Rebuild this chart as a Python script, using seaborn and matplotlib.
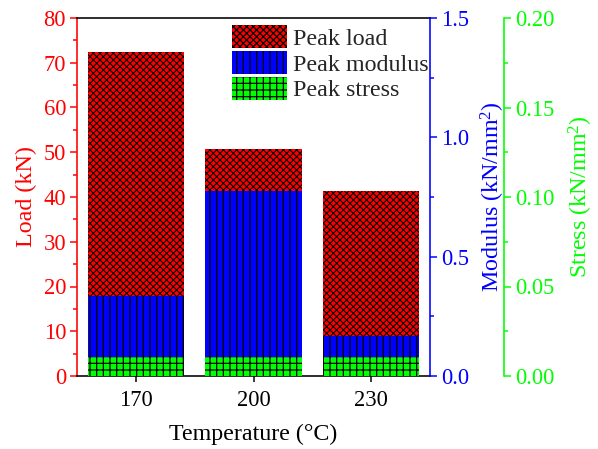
import matplotlib
matplotlib.use("Agg")
import matplotlib.pyplot as plt
import seaborn as sns
import pandas as pd
from matplotlib.ticker import MultipleLocator

temperatures = ["170", "200", "230"]
peak_load = [72.3, 50.7, 41.3]          # kN
peak_modulus = [0.335, 0.775, 0.168]    # kN/mm^2
peak_stress = [0.0106, 0.0106, 0.0106]  # kN/mm^2
legend_labels = ["Peak load", "Peak modulus", "Peak stress"]

RED, BLUE, GREEN = "#FF0000", "#0000FF", "#00FF00"

sns.set_style("ticks")
DPI = 80
px = 72 / DPI
plt.rcParams["font.family"] = ["Liberation Serif", "DejaVu Serif"]
plt.rcParams["mathtext.fontset"] = "custom"
plt.rcParams["mathtext.rm"] = "Liberation Serif"
plt.rcParams["mathtext.it"] = "Liberation Serif:italic"
plt.rcParams["axes.linewidth"] = 1.6 * px

TICK = 22.5 * px
LAB = 24 * px

df = pd.DataFrame({"temp": temperatures, "load": peak_load,
                   "modulus": peak_modulus, "stress": peak_stress})

fig = plt.figure(figsize=(598 / DPI, 449 / DPI), dpi=DPI)
ax = fig.add_axes([77 / 598, 1 - 376 / 449, (430 - 77) / 598, (376 - 18) / 449])
ax2 = ax.twinx()
ax3 = ax.twinx()

W = 0.82
plt.rcParams["hatch.linewidth"] = 0.95
sns.barplot(data=df, x="temp", y="load", ax=ax, color=RED, saturation=1,
            width=W, hatch="xxxx", edgecolor="black", linewidth=0)
plt.rcParams["hatch.linewidth"] = 1.2
sns.barplot(data=df, x="temp", y="modulus", ax=ax2, color=BLUE, saturation=1,
            width=W, hatch="||", edgecolor="black", linewidth=0)
plt.rcParams["hatch.linewidth"] = 1.1
sns.barplot(data=df, x="temp", y="stress", ax=ax3, color=GREEN, saturation=1,
            width=W, hatch="++", edgecolor="black", linewidth=0)

for a in (ax, ax2, ax3):
    a.set_xlim(-0.5, 2.5)

ax.set_ylim(0, 80)
ax2.set_ylim(0, 1.5)
ax3.set_ylim(0, 0.20)

ax.yaxis.set_major_locator(MultipleLocator(10))
ax.yaxis.set_minor_locator(MultipleLocator(5))
ax2.yaxis.set_major_locator(MultipleLocator(0.5))
ax2.yaxis.set_minor_locator(MultipleLocator(0.25))
ax3.yaxis.set_major_locator(MultipleLocator(0.05))
ax3.yaxis.set_minor_locator(MultipleLocator(0.025))
ax2.yaxis.set_major_formatter(matplotlib.ticker.FormatStrFormatter("%.1f"))
ax3.yaxis.set_major_formatter(matplotlib.ticker.FormatStrFormatter("%.2f"))

ax3.spines["right"].set_position(("axes", (504 - 77) / (430 - 77)))

# spines
for s in ("top", "bottom"):
    ax.spines[s].set_visible(True)
    ax.spines[s].set_color("black")
ax.spines["left"].set_color(RED)
ax.spines["right"].set_visible(False)
for s in ("top", "bottom", "left"):
    ax2.spines[s].set_visible(False)
    ax3.spines[s].set_visible(False)
ax2.spines["right"].set_color(BLUE)
ax2.spines["right"].set_visible(True)
ax3.spines["right"].set_color(GREEN)
ax3.spines["right"].set_visible(True)
for a in (ax2, ax3):
    a.spines["right"].set_linewidth(1.6 * px)

ax.tick_params(axis="y", which="major", colors=RED, labelcolor=RED,
               labelsize=TICK, length=7 * px, width=1.5 * px, direction="out")
ax.tick_params(axis="y", which="minor", colors=RED, length=4 * px, width=1.5 * px)
ax.tick_params(axis="x", which="major", colors="black", labelsize=TICK,
               length=6 * px, width=1.5 * px, direction="out", pad=7)
ax2.tick_params(axis="y", which="major", colors=BLUE, labelcolor=BLUE,
                labelsize=TICK, length=7 * px, width=1.5 * px)
ax2.tick_params(axis="y", which="minor", colors=BLUE, length=4 * px, width=1.5 * px)
ax3.tick_params(axis="y", which="major", colors=GREEN, labelcolor=GREEN,
                labelsize=TICK, length=7 * px, width=1.5 * px)
ax3.tick_params(axis="y", which="minor", colors=GREEN, length=4 * px, width=1.5 * px)
for a in (ax2, ax3):
    a.tick_params(axis="x", which="both", bottom=False, top=False,
                  labelbottom=False)

ax.set_xlabel("Temperature (°C)", fontsize=LAB, color="black", labelpad=12)
ax.set_ylabel("Load (kN)", fontsize=LAB, color=RED, labelpad=6)
ax2.set_ylabel("Modulus (kN/mm$^2$)", fontsize=LAB, color=BLUE, labelpad=9)
ax3.set_ylabel("Stress (kN/mm$^2$)", fontsize=LAB, color=GREEN, labelpad=11)

handles = [ax.patches[0], ax2.patches[0], ax3.patches[0]]
leg = ax3.legend(handles, legend_labels, loc="upper left",
                 bbox_to_anchor=(232 / 598, 1 - 25 / 449),
                 bbox_transform=fig.transFigure, frameon=False,
                 fontsize=LAB, handlelength=2.3, handleheight=1.1,
                 labelspacing=0.05, handletextpad=0.25, borderpad=0,
                 borderaxespad=0)

fig.savefig("out.png", dpi=DPI)
